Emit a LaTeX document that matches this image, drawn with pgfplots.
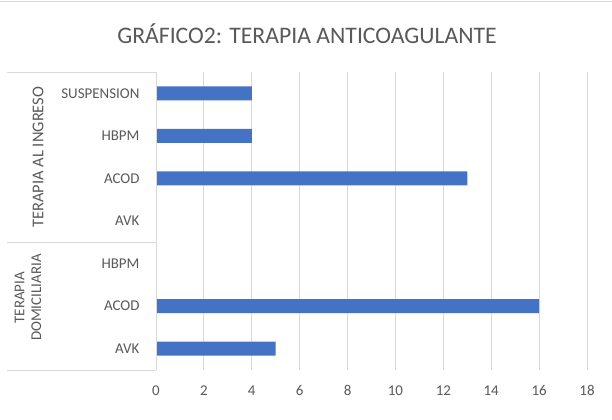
\documentclass[border=0pt]{standalone}
\usepackage{pgfplots}
\pgfplotsset{compat=1.18}
\usepackage{fontspec}
\setmainfont{Carlito}
\definecolor{barblue}{HTML}{4472C4}
\definecolor{txt}{HTML}{595959}
\definecolor{gridc}{HTML}{D9D9D9}
\begin{document}
\begin{tikzpicture}
\useasboundingbox (0,0) rectangle (612bp,420bp);
\draw[gridc, line width=1.5bp] (0,418.5bp) -- (612bp,418.5bp);
\node[text=txt, font=\fontsize{23.8}{28}\selectfont] at (307bp,386bp) {GRÁFICO2: TERAPIA ANTICOAGULANTE};
\begin{axis}[
  at={(156bp,50bp)}, anchor=south west,
  scale only axis, width=431bp, height=298bp,
  xmin=0, xmax=18, ymin=0.5, ymax=7.5, y dir=reverse,
  xtick={0,2,...,18}, ytick={1,...,7},
  yticklabels={SUSPENSION,HBPM,ACOD,AVK,HBPM,ACOD,AVK},
  xmajorgrids, major grid style={gridc, line width=1bp},
  axis line style={draw=none}, tick style={draw=none},
  /pgf/number format/assume math mode=true,
  x tick label style={font=\fontsize{15}{17}\selectfont, text=txt, yshift=-12bp},
  y tick label style={font=\fontsize{15}{17}\selectfont, text=txt, anchor=east, xshift=-13bp},
  clip=false,
]
\addplot[xbar, fill=barblue, draw=none, bar width=0.33] coordinates {(4,1) (4,2) (13,3) (0,4) (0,5) (16,6) (5,7)};
\draw[gridc, line width=1bp] (axis cs:0,0.5) -- (axis cs:0,7.5);
\draw[gridc, line width=1bp] (axis cs:0,0.5) -- ([xshift=-149bp]axis cs:0,0.5);
\draw[gridc, line width=1bp] (axis cs:0,4.5) -- ([xshift=-149bp]axis cs:0,4.5);
\draw[gridc, line width=1bp] (axis cs:0,7.5) -- ([xshift=-149bp]axis cs:0,7.5);
\node[rotate=90, text=txt, font=\fontsize{16.5}{19}\selectfont] at ([xshift=-118bp]axis cs:0,2.5) {TERAPIA AL INGRESO};
\node[rotate=90, text=txt, font=\fontsize{15}{17}\selectfont, align=center] at ([xshift=-128bp]axis cs:0,5.8) {TERAPIA\\DOMICILIARIA};
\end{axis}
\end{tikzpicture}
\end{document}
